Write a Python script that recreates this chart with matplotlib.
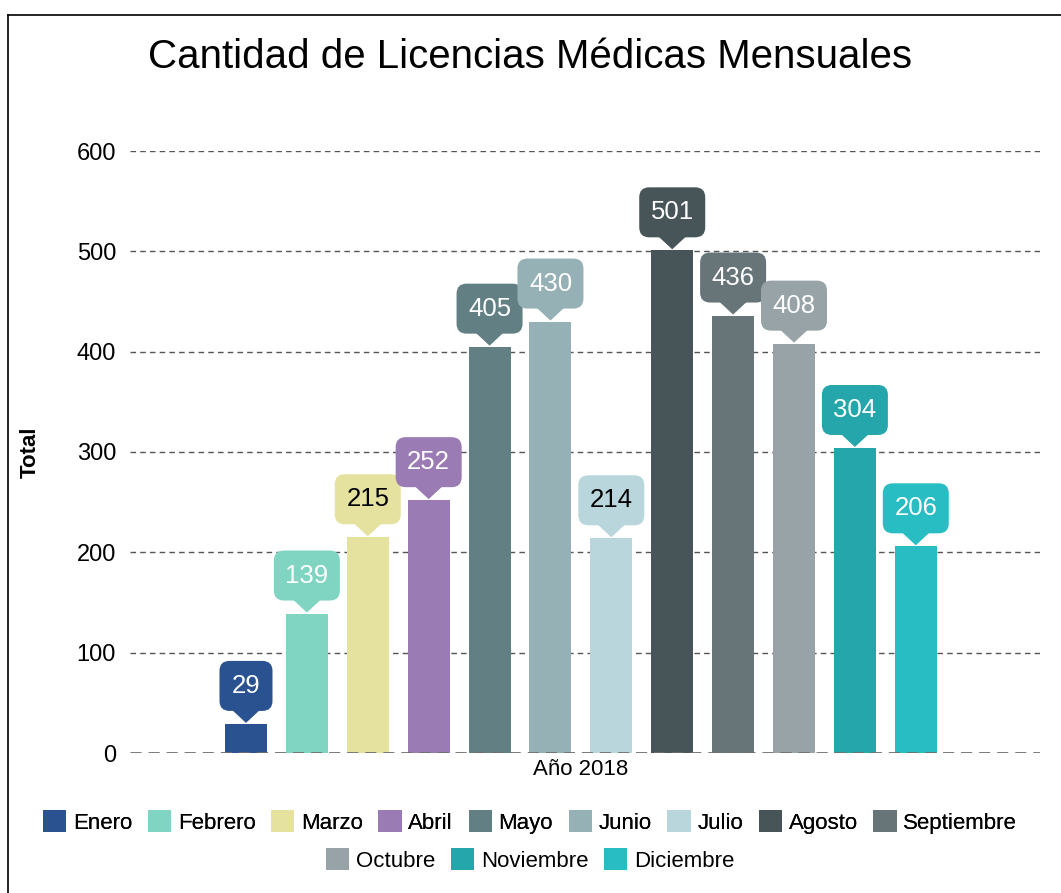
import matplotlib.pyplot as plt
import matplotlib.transforms as mtransforms
from matplotlib.patches import FancyBboxPatch, Polygon, Patch
from matplotlib.lines import Line2D

plt.rcParams['font.family'] = ['Liberation Sans', 'DejaVu Sans']

meses = ['Enero', 'Febrero', 'Marzo', 'Abril', 'Mayo', 'Junio', 'Julio',
         'Agosto', 'Septiembre', 'Octubre', 'Noviembre', 'Diciembre']
totales = [29, 139, 215, 252, 405, 430, 214, 501, 436, 408, 304, 206]
colores = ['#2a5291', '#7fd5c1', '#e5e29f', '#9b7bb3', '#627f84', '#95b1b6',
           '#b9d6dc', '#475559', '#677579', '#97a3a6', '#24a6aa', '#27bdc2']
color_texto = ['white', 'white', 'black', 'white', 'white', 'white',
               'black', 'white', 'white', 'white', 'white', 'white']
yticks = [0, 100, 200, 300, 400, 500, 600]

W, H = 1061, 893
fig = plt.figure(figsize=(W / 100, H / 100), dpi=100)
ax = fig.add_axes([130 / W, 1 - 753 / H, 910 / W, 602 / H])

x = list(range(len(meses)))
ax.set_xlim(-1.905, 13.04)
ax.set_ylim(0, 600)

# grid
for t in yticks[1:]:
    ax.axhline(t, color='#555555', lw=1, ls=(0, (4, 3)), zorder=0)

ax.bar(x, totales, width=0.69, color=colores, zorder=2)
ax.axhline(0, color='#6e6e6e', lw=2, ls=(0, (4, 2.5)), zorder=3)

# etiquetas tipo globo sobre cada barra (pixeles)
for xi, v, c, tc in zip(x, totales, colores, color_texto):
    tr = mtransforms.ScaledTranslation(xi, v, ax.transData)
    tr = mtransforms.Affine2D() + tr
    txt = str(v)
    w = 13 * len(txt) + 27
    h = 50
    gap, ptr = 1, 12
    box = FancyBboxPatch((-w / 2, gap + ptr), w, h,
                         boxstyle='round,pad=0,rounding_size=10',
                         transform=tr, facecolor=c, edgecolor='none',
                         zorder=4, clip_on=False)
    fig.add_artist(box)
    tri = Polygon([(-14, gap + ptr + 1), (0, gap), (14, gap + ptr + 1)],
                  closed=True, transform=tr, facecolor=c, edgecolor='none',
                  zorder=4, clip_on=False)
    fig.add_artist(tri)
    fig.text(0, gap + ptr + h / 2, txt, transform=tr, ha='center',
             va='center', fontsize=18.5, color=tc, zorder=5)

ax.set_yticks(yticks)
ax.set_yticklabels([str(t) for t in yticks], fontsize=17)
ax.set_xticks([(x[0] + x[-1]) / 2])
ax.set_xticklabels(['Año 2018'], fontsize=16)
ax.tick_params(length=0, pad=10)
ax.tick_params(axis='x', pad=4)
for s in ax.spines.values():
    s.set_visible(False)

fig.text(30 / W, 1 - 452 / H, 'Total', rotation=90, ha='center', va='center',
         fontsize=16, fontweight='bold')
fig.text(530 / W, 1 - 57 / H, 'Cantidad de Licencias Médicas Mensuales',
         ha='center', va='center', fontsize=29)

# leyenda en dos filas centradas
handles = [Patch(facecolor=c, label=m) for m, c in zip(meses, colores)]
opts = dict(loc='center', frameon=False, fontsize=16, handlelength=1.05,
            handleheight=1.15, handletextpad=0.3, columnspacing=0.7)
leg1 = fig.legend(handles=handles[:9], ncol=9,
                  bbox_to_anchor=(530 / W, 1 - 822 / H), **opts)
leg2 = fig.legend(handles=handles[9:], ncol=3,
                  bbox_to_anchor=(530 / W, 1 - 860 / H), **opts)
fig.add_artist(leg1)

# marco
fig.add_artist(Line2D([8 / W, 8 / W], [0, 1 - 15 / H], color='black', lw=1.2,
                      transform=fig.transFigure))
fig.add_artist(Line2D([8 / W, 1], [1 - 15 / H, 1 - 15 / H], color='black',
                      lw=1.2, transform=fig.transFigure))

fig.savefig('out.png', dpi=100)
